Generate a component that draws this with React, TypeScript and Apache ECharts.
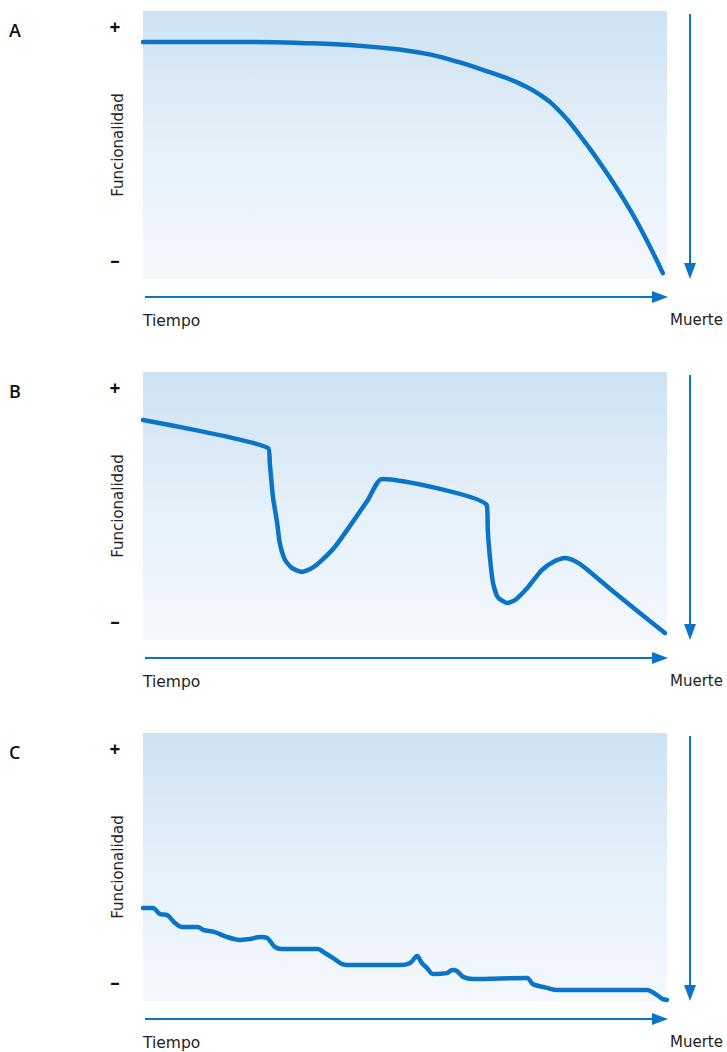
import React, { useEffect, useRef } from "react";
import * as echarts from "echarts";

const panelLetters = ["A", "B", "C"];
const yAxisName = "Funcionalidad";
const xAxisName = "Tiempo";
const endLabel = "Muerte";
const plusLabel = "+";
const minusLabel = "–";

const curveA: [number, number][] = [
  [0, 88.4], [20.4, 88.4], [30.0, 88.1], [39.5, 87.3], [49.0, 85.6], [54.7, 83.8],
  [60.5, 80.8], [64.3, 78.4], [68.1, 75.9], [71.9, 72.9], [75.8, 68.7], [79.6, 62.4], [83.4, 53.5],
  [87.2, 43.3], [91.0, 32.1], [94.8, 19.4], [99.2, 2.2],
];

const curveB: [number, number][] = [
  [0, 82.1], [23.9, 71.6], [24.2, 66.0], [24.8, 53.4], [25.6, 43.7], [26.1, 36.2], [27.1, 29.9],
  [28.4, 26.9], [30.3, 25.4], [32.3, 26.9], [34.2, 29.9], [36.6, 34.7], [39.9, 43.7], [42.9, 52.2],
  [45.6, 60.1], [65.6, 50.4], [65.8, 41.0], [66.2, 31.0], [66.8, 21.3], [67.7, 16.0], [69.5, 13.8],
  [71.0, 14.9], [73.5, 19.8], [76.1, 26.1], [78.6, 29.5], [80.5, 30.6], [82.4, 29.5], [84.4, 26.9],
  [90.1, 17.5], [99.6, 2.6],
];

const curveC: [number, number][] = [
  [0, 34.7], [1.9, 34.7], [3.2, 32.5], [4.6, 32.1], [6.1, 29.1], [7.4, 27.6], [10.5, 27.6],
  [11.5, 26.5], [13.7, 25.7], [16.0, 23.9], [18.5, 22.8], [20.4, 23.1], [22.3, 23.9], [23.7, 23.5],
  [25.2, 20.1], [26.5, 19.4], [33.4, 19.4], [34.4, 18.3], [36.3, 16.0], [38.0, 13.8], [40.1, 13.4],
  [49.0, 13.4], [51.0, 14.2], [52.3, 16.8], [53.2, 14.2], [54.2, 12.3], [55.3, 10.1], [58.0, 10.4],
  [59.0, 11.6], [59.9, 11.2], [61.1, 9.0], [63.0, 8.2], [73.3, 8.6], [74.4, 6.3], [77.1, 4.9],
  [79.0, 4.1], [96.2, 4.1], [98.1, 2.2], [99.2, 0.7], [100, 0.4],
];

const curves = [curveA, curveB, curveC];
const smoothness = [0.5, 0.2, 0.3];

const BLUE = "#0a74c9";
const W = 727;
const H = 1052;

export default function App() {
  const ref = useRef<HTMLDivElement>(null);
  useEffect(() => {
    if (!ref.current) return;
    const chart = echarts.init(ref.current, null, { renderer: "svg" });
    const left = 143;
    const width = 524;
    const top0 = 11;
    const height = 268;
    const step = 361;
    const font = "'DejaVu Sans', sans-serif";
    const headFont = "'Open Sans', sans-serif";

    const grids: any[] = [];
    const xAxes: any[] = [];
    const yAxes: any[] = [];
    const series: any[] = [];
    const graphics: any[] = [];

    curves.forEach((data, i) => {
      const top = top0 + step * i;
      grids.push({ left, top, width, height });
      xAxes.push({ type: "value", gridIndex: i, min: 0, max: 100, show: false });
      yAxes.push({ type: "value", gridIndex: i, min: 0, max: 100, show: false });
      series.push({
        type: "line",
        xAxisIndex: i,
        yAxisIndex: i,
        data,
        smooth: smoothness[i],
        symbol: "none",
        clip: false,
        lineStyle: { color: BLUE, width: 4.5, cap: "round", join: "round" },
        z: 5,
      });
      graphics.push({
        type: "rect",
        shape: { x: left, y: top, width, height },
        style: {
          fill: new echarts.graphic.LinearGradient(0, 0, 0, 1, [
            { offset: 0, color: "#cde2f2" },
            { offset: 0.5, color: "#e5f0f9" },
            { offset: 1, color: "#f4f8fd" },
          ]),
        },
        z: -10,
        silent: true,
      });
      const ay = top + 286;
      graphics.push({
        type: "line",
        shape: { x1: 145, y1: ay, x2: 656, y2: ay },
        style: { stroke: BLUE, lineWidth: 2 },
      });
      graphics.push({
        type: "polygon",
        shape: { points: [[652, ay - 6], [668, ay], [652, ay + 6]] },
        style: { fill: BLUE },
      });
      graphics.push({
        type: "line",
        shape: { x1: 690, y1: top + 3, x2: 690, y2: top + 256 },
        style: { stroke: BLUE, lineWidth: 2 },
      });
      graphics.push({
        type: "polygon",
        shape: { points: [[684, top + 252], [690, top + 268], [696, top + 252]] },
        style: { fill: BLUE },
      });
      graphics.push({
        type: "text",
        x: 9,
        y: top + 19,
        style: { text: panelLetters[i], font: `600 18px ${headFont}`, fill: "#111", verticalAlign: "middle" },
      });
      graphics.push({
        type: "text",
        x: 115,
        y: top + 16,
        style: { text: plusLabel, font: `700 19px ${headFont}`, fill: "#111", align: "center", verticalAlign: "middle" },
      });
      graphics.push({
        type: "text",
        x: 115,
        y: top + 249,
        style: { text: minusLabel, font: `700 19px ${headFont}`, fill: "#111", align: "center", verticalAlign: "middle" },
      });
      graphics.push({
        type: "text",
        x: 118,
        y: top + 134,
        rotation: Math.PI / 2,
        style: {
          text: yAxisName,
          font: `400 15px ${font}`,
          fill: "#222",
          align: "center",
          verticalAlign: "middle",
        },
      });
      graphics.push({
        type: "text",
        x: 143,
        y: top + 310,
        style: { text: xAxisName, font: `400 15.5px ${font}`, fill: "#222", verticalAlign: "middle", lineHeight: 15 },
      });
      graphics.push({
        type: "text",
        x: 670,
        y: top + 309,
        style: { text: endLabel, font: `400 15px ${font}`, fill: "#222", verticalAlign: "middle", lineHeight: 14 },
      });
    });

    chart.setOption({
      animation: false,
      backgroundColor: "#ffffff",
      grid: grids,
      xAxis: xAxes,
      yAxis: yAxes,
      series,
      graphic: graphics,
    });
    return () => chart.dispose();
  }, []);
  return (
    <div
      ref={ref}
      style={{ position: "absolute", left: 0, top: 0, width: W, height: H }}
    />
  );
}
